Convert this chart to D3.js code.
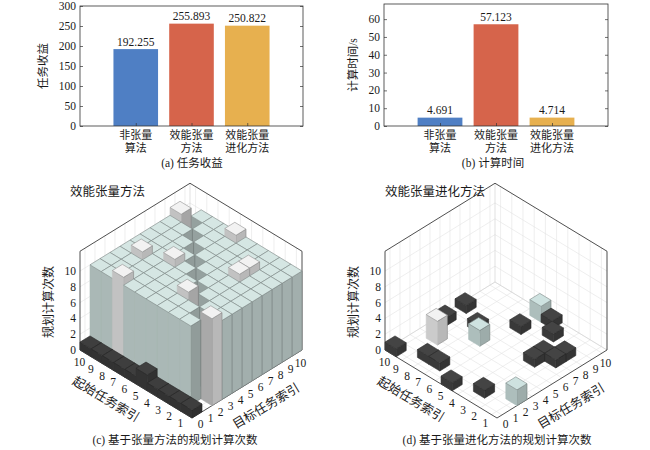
<!DOCTYPE html>
<html>
<head>
<meta charset="utf-8">
<script src="https://cdn.jsdelivr.net/npm/d3@7"></script>
<style>
  body { margin: 0; background: #fff; }
  text { font-family: "Liberation Serif", "Noto Sans CJK SC", serif; fill: #1a1a1a; }
</style>
</head>
<body>
<svg id="chart" width="650" height="450"></svg>
<script>
// ---- data ----
var methodLabels = [["非张量", "算法"], ["效能张量", "方法"], ["效能张量", "进化方法"]];
var profit = [192.255, 255.893, 250.822];
var runtime = [4.691, 57.123, 4.714];
var barColors = ["#4f7fc4", "#d6644b", "#e7b04f"];
var profitTicks = [0, 50, 100, 150, 200, 250, 300];
var runtimeTicks = [0, 10, 20, 30, 40, 50, 60];

var startIdx = [1, 2, 3, 4, 5, 6, 7, 8, 9, 10];
var targetIdx = [0, 1, 2, 3, 4, 5, 6, 7, 8, 9, 10];
var zTicks = [0, 2, 4, 6, 8, 10];

// rows: start task 1..10, columns: target task 0..10
var countsTensor = [
  [1, 0, 11, 10, 10, 10, 10, 10, 10, 10, 10],
  [1, 10, 0, 10, 10, 10, 10, 10, 10, 10, 10],
  [1, 10, 10, 0, 10, 10, 10, 11, 11, 10, 10],
  [1, 10, 10, 11, 0, 10, 10, 10, 10, 10, 10],
  [2, 10, 10, 10, 10, 0, 10, 10, 10, 10, 10],
  [1, 10, 10, 10, 10, 10, 0, 10, 10, 10, 11],
  [1, 10, 10, 10, 10, 11, 10, 0, 10, 10, 10],
  [1, 11, 10, 10, 10, 10, 10, 10, 0, 10, 10],
  [1, 10, 10, 10, 11, 10, 10, 10, 10, 0, 10],
  [1, 10, 10, 10, 10, 10, 10, 10, 10, 11, 0]
];
var countsEvo = [
  [0, 0, 2, 0, 0, 0, 0, 0, 0, 0, 0],
  [0, 0, 0, 0, 0, 0, 0, 1, 1, 0, 0],
  [0, 1, 0, 0, 0, 0, 1, 1, 0, 0, 0],
  [0, 0, 0, 0, 0, 0, 0, 0, 0, 1, 0],
  [1, 0, 0, 0, 0, 0, 0, 0, 0, 0, 1],
  [0, 0, 0, 0, 0, 0, 0, 0, 1, 0, 2],
  [0, 1, 0, 0, 0, 2, 0, 0, 0, 0, 0],
  [0, 1, 0, 0, 0, 0, 1, 0, 0, 0, 0],
  [0, 0, 0, 3, 0, 0, 0, 0, 0, 0, 0],
  [1, 0, 0, 0, 0, 1, 0, 1, 0, 0, 0]
];

var svg = d3.select("#chart");

// ---------- (a), (b) bar charts ----------
function barPanel(opt) {
  var g = svg.append("g");
  var x = d3.scaleLinear().domain([0, 4]).range([opt.left, opt.right]);
  var y = d3.scaleLinear().domain([0, opt.ymax]).range([opt.bottom, opt.top]);

  g.selectAll("rect.bar")
      .data(opt.values)
    .enter().append("rect")
      .attr("class", "bar")
      .attr("x", function (d, i) { return x(i + 1 - 0.4); })
      .attr("width", x(0.8) - x(0))
      .attr("y", function (d) { return y(d); })
      .attr("height", function (d) { return y(0) - y(d); })
      .attr("fill", function (d, i) { return barColors[i]; });

  // value labels
  g.selectAll("text.val")
      .data(opt.values)
    .enter().append("text")
      .attr("x", function (d, i) { return x(i + 1); })
      .attr("y", function (d) { return y(d) - 3.5; })
      .attr("text-anchor", "middle")
      .style("font-size", "11.5px")
      .text(function (d) { return d3.format(".3f")(d); });

  // axes, ticks pointing inward
  var yAxis = g.append("g")
      .attr("transform", "translate(" + opt.left + ",0)")
      .call(d3.axisLeft(y).tickValues(opt.ticks).tickSize(-3).tickPadding(4));
  g.append("g")
      .attr("transform", "translate(" + opt.right + ",0)")
      .call(d3.axisRight(y).tickValues(opt.ticks).tickSize(-3).tickFormat(""));
  g.append("g")
      .attr("transform", "translate(0," + opt.bottom + ")")
      .call(d3.axisBottom(x).tickValues([1, 2, 3]).tickSize(-3).tickFormat(""));
  g.selectAll(".domain").remove();
  g.selectAll(".tick line").attr("stroke", "#333").attr("stroke-width", 0.7);
  yAxis.selectAll("text")
      .style("font-size", "11.5px")
      .style("font-family", "Liberation Serif")
      .attr("dy", "0.3em")
      .attr("fill", "#1a1a1a");

  g.append("rect")
      .attr("x", opt.left).attr("y", opt.top)
      .attr("width", opt.right - opt.left)
      .attr("height", opt.bottom - opt.top)
      .attr("fill", "none")
      .attr("stroke", "#333")
      .attr("stroke-width", 0.8);

  // category labels (two lines)
  methodLabels.forEach(function (lines, i) {
    lines.forEach(function (line, j) {
      g.append("text")
          .attr("x", x(i + 1))
          .attr("y", opt.bottom + 13 + j * 12.5)
          .attr("text-anchor", "middle")
          .style("font-size", "11px")
          .text(line);
    });
  });

  g.append("text")
      .attr("transform", "translate(" + opt.ylabelX + "," + ((opt.top + opt.bottom) / 2) + ") rotate(-90)")
      .attr("text-anchor", "middle")
      .attr("dy", "0.35em")
      .style("font-size", "11.5px")
      .text(opt.ylabel);

  g.append("text")
      .attr("x", opt.captionX)
      .attr("y", 167)
      .attr("text-anchor", "middle")
      .style("font-size", "11.5px")
      .text(opt.caption);
}

barPanel({ left: 80, right: 303, top: 6, bottom: 126, ymax: 300, ticks: profitTicks,
  values: profit, ylabel: "任务收益", ylabelX: 43, caption: "(a) 任务收益", captionX: 192 });
barPanel({ left: 384, right: 608, top: 4, bottom: 126, ymax: 68.5, ticks: runtimeTicks,
  values: runtime, ylabel: "计算时间/s", ylabelX: 353, caption: "(b) 计算时间", captionX: 493 });

// ---------- (c), (d) 3D bar charts ----------
var zTop = 12.5;
var edgeL = [-112, -68];   // screen vector of the start-index edge
var edgeR = [110, -68];    // screen vector of the target-index edge
var heightColor = d3.scaleLinear()
    .domain([0, 0.4, 0.62, 0.95, 1])
    .range(["#3c3c3c", "#454545", "#cde1df", "#d6e7e4", "#f2f2f2"]);

function shade(c, k) {
  var r = d3.rgb(c);
  return d3.rgb(r.r * k, r.g * k, r.b * k).toString();
}

function bar3Panel(opt) {
  var g = svg.append("g");
  var su = d3.scaleLinear().domain([0.5, 10.5]).range([0, 1]);
  var tv = d3.scaleLinear().domain([-0.5, 10.5]).range([0, 1]);
  var zh = d3.scaleLinear().domain([0, zTop]).range([0, zTop * 7.9]);
  function P(s, t, z) {
    return [opt.B[0] + su(s) * edgeL[0] + tv(t) * edgeR[0],
            opt.B[1] + su(s) * edgeL[1] + tv(t) * edgeR[1] - zh(z)];
  }
  function valueAt(s, t) {
    var row = opt.data[s - startIdx[0]];
    return row ? row[t - targetIdx[0]] : undefined;
  }
  var line = d3.line();
  function seg(a, b, color, w) {
    g.append("path").attr("d", line([a, b]))
        .attr("stroke", color).attr("stroke-width", w).attr("fill", "none");
  }
  var gridC = "#e2e2e2";

  // back walls and floor grid
  targetIdx.forEach(function (t) {
    seg(P(10.5, t, 0), P(10.5, t, zTop), gridC, 0.6);
    seg(P(0.5, t, 0), P(10.5, t, 0), gridC, 0.6);
  });
  startIdx.forEach(function (s) {
    seg(P(s, 10.5, 0), P(s, 10.5, zTop), gridC, 0.6);
    seg(P(s, -0.5, 0), P(s, 10.5, 0), gridC, 0.6);
  });
  zTicks.forEach(function (z) {
    seg(P(10.5, -0.5, z), P(10.5, 10.5, z), gridC, 0.6);
    seg(P(10.5, 10.5, z), P(0.5, 10.5, z), gridC, 0.6);
  });
  seg(P(10.5, 10.5, 0), P(10.5, 10.5, zTop), "#cfcfcf", 0.6);
  seg(P(10.5, -0.5, 0), P(10.5, 10.5, 0), "#cfcfcf", 0.6);
  seg(P(10.5, 10.5, 0), P(0.5, 10.5, 0), "#cfcfcf", 0.6);

  // box outline
  g.append("path")
      .attr("d", line([P(10.5, -0.5, 0), P(10.5, -0.5, zTop), P(10.5, 10.5, zTop),
                       P(0.5, 10.5, zTop), P(0.5, 10.5, 0)]))
      .attr("fill", "none").attr("stroke", "#222").attr("stroke-width", 0.8);
  g.append("path")
      .attr("d", line([P(10.5, -0.5, 0), P(0.5, -0.5, 0), P(0.5, 10.5, 0)]))
      .attr("fill", "none").attr("stroke", "#222").attr("stroke-width", 0.8);

  // bars, far ones first
  var maxV = d3.max(opt.data, function (row) { return d3.max(row); });
  var cells = [];
  opt.data.forEach(function (row, i) {
    row.forEach(function (v, j) {
      if (v > 0) cells.push({ s: startIdx[i], t: targetIdx[j], v: v });
    });
  });
  cells.sort(function (a, b) { return (b.s + b.t) - (a.s + a.t); });

  cells.forEach(function (c) {
    var s0 = c.s - 0.5, s1 = c.s + 0.5, t0 = c.t - 0.5, t1 = c.t + 0.5, h = c.v;
    var col = heightColor(c.v / maxV);
    // faces looking into an empty cell of the grid sit in shadow
    var kl = valueAt(c.s, c.t - 1) === 0 ? 0.7 : 0.8;
    var kr = valueAt(c.s - 1, c.t) === 0 ? 0.68 : 0.76;
    if (maxV < 5) { kl = 0.84; kr = 0.76; }
    var leftFill = shade(col, kl), rightFill = shade(col, kr);
    // right face first so its edge line never bleeds onto the left face
    var faces = [
      { pts: [P(s0, t0, 0), P(s0, t1, 0), P(s0, t1, h), P(s0, t0, h)], fill: rightFill, edge: shade(rightFill, 0.72) },
      { pts: [P(s0, t0, 0), P(s1, t0, 0), P(s1, t0, h), P(s0, t0, h)], fill: leftFill, edge: leftFill },
      { pts: [P(s0, t0, h), P(s1, t0, h), P(s1, t1, h), P(s0, t1, h)], fill: col, edge: shade(col, 0.6) }
    ];
    faces.forEach(function (f) {
      g.append("path")
          .attr("d", line(f.pts) + "Z")
          .attr("fill", f.fill)
          .attr("stroke", f.edge)
          .attr("stroke-width", 0.6)
          .attr("stroke-linejoin", "round");
    });
  });

  // z ticks
  zTicks.forEach(function (z) {
    var p = P(10.5, -0.5, z);
    g.append("text").attr("x", p[0] - 4).attr("y", p[1]).attr("dy", "0.35em")
        .attr("text-anchor", "end").style("font-size", "11.5px").text(z);
  });
  // start index ticks
  startIdx.forEach(function (s) {
    var p = P(s, -0.5, 0);
    g.append("text").attr("x", p[0] - 6).attr("y", p[1] + 8.5).attr("dy", "0.35em")
        .attr("text-anchor", "middle").style("font-size", "11.5px").text(s);
  });
  // target index ticks
  targetIdx.forEach(function (t) {
    var p = P(0.5, t, 0);
    g.append("text").attr("x", p[0] + 3.5).attr("y", p[1] + 9.5).attr("dy", "0.35em")
        .attr("text-anchor", "middle").style("font-size", "11.5px").text(t);
  });

  var B = opt.B;
  g.append("text")
      .attr("transform", "translate(" + (B[0] - 86) + "," + (B[1] - 19) + ") rotate(31)")
      .attr("text-anchor", "middle").attr("dy", "0.35em")
      .style("font-size", "12.5px").text("起始任务索引");
  g.append("text")
      .attr("transform", "translate(" + (B[0] + 74) + "," + (B[1] - 12) + ") rotate(-31)")
      .attr("text-anchor", "middle").attr("dy", "0.35em")
      .style("font-size", "12.5px").text("目标任务索引");
  g.append("text")
      .attr("transform", "translate(" + (B[0] - 143) + "," + (B[1] - 116) + ") rotate(-90)")
      .attr("text-anchor", "middle").attr("dy", "0.35em")
      .style("font-size", "12px").text("规划计算次数");

  g.append("text")
      .attr("x", opt.titleX).attr("y", 196)
      .style("font-size", "12.5px").text(opt.title);
  g.append("text")
      .attr("x", opt.captionX).attr("y", 444)
      .attr("text-anchor", "middle")
      .style("font-size", "11.5px").text(opt.caption);
}

bar3Panel({ B: [192, 418], data: countsTensor, title: "效能张量方法", titleX: 70,
  caption: "(c) 基于张量方法的规划计算次数", captionX: 175 });
bar3Panel({ B: [497, 418], data: countsEvo, title: "效能张量进化方法", titleX: 385,
  caption: "(d) 基于张量进化方法的规划计算次数", captionX: 497 });
</script>
</body>
</html>
